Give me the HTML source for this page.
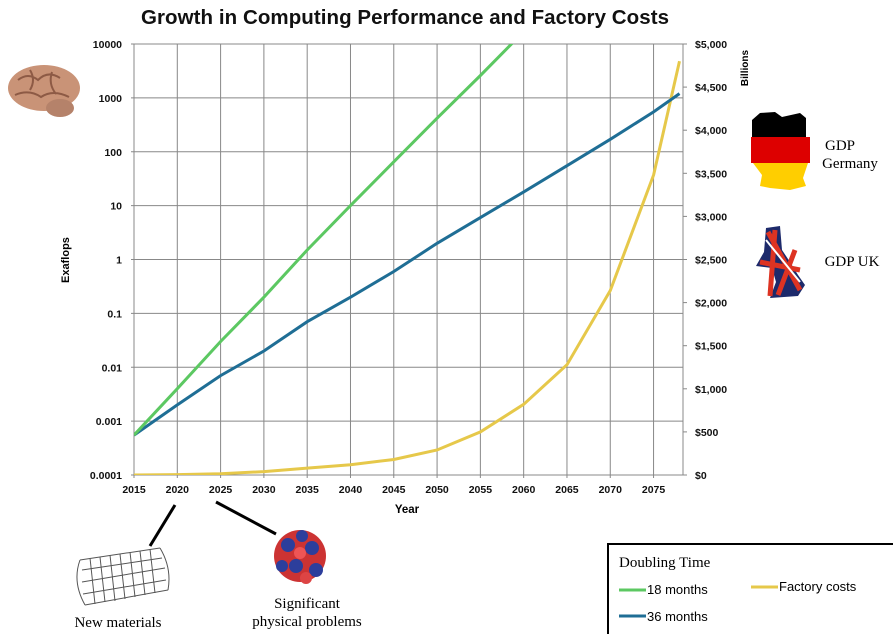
<!DOCTYPE html>
<html><head><meta charset="utf-8"><style>
body{margin:0;background:#fff;width:893px;height:634px;overflow:hidden;font-family:"Liberation Sans",sans-serif}
svg{display:block}
</style></head><body>
<svg id="c" width="893" height="634" xmlns="http://www.w3.org/2000/svg">
<text x="405" y="24" text-anchor="middle" font-size="20.5" font-weight="bold" fill="#111" textLength="528">Growth in Computing Performance and Factory Costs</text>
<g id="grid"></g>
<g id="axes" font-size="10.5" font-weight="bold" fill="#111"></g>
<g id="series"></g>
<text x="69" y="260" font-size="11" font-weight="bold" transform="rotate(-90 69 260)" text-anchor="middle">Exaflops</text>
<text x="407" y="513" font-size="11.5" font-weight="bold" text-anchor="middle">Year</text>
<text x="748" y="68" font-size="10" font-weight="bold" transform="rotate(-90 748 68)" text-anchor="middle">Billions</text>
<g>
<ellipse cx="44" cy="88" rx="36" ry="23" fill="#c99377"/>
<ellipse cx="60" cy="108" rx="14" ry="9" fill="#b5826a"/>
<path d="M18 80 q10 -8 20 0 q10 -10 22 -2 M15 95 q14 -6 26 2 q12 -8 28 0 M30 70 q6 10 0 20 M52 72 q-4 12 4 22" stroke="#8d5a45" stroke-width="2" fill="none"/>
</g>
<g>
<path d="M760 113 L775 112 L782 117 L800 113 L806 118 L806 137 L752 137 L752 120 Z" fill="#000"/>
<rect x="751" y="137" width="59" height="26" fill="#dd0000"/>
<path d="M753 163 L808 163 L803 178 L806 186 L790 190 L770 188 L760 186 L762 175 Z" fill="#ffce00"/>
</g>
<text x="840" y="150" font-family="Liberation Serif" font-size="15" text-anchor="middle">GDP</text>
<text x="850" y="168" font-family="Liberation Serif" font-size="15" text-anchor="middle">Germany</text>
<g>
<path d="M766 228 L780 226 L782 250 L790 262 L798 275 L805 285 L798 296 L770 298 L776 282 L772 268 L756 266 L764 252 Z" fill="#1d2a6b"/>
<path d="M768 232 L800 290 M775 230 L770 296 M760 262 L800 270 M778 295 L795 250" stroke="#d32" stroke-width="5" fill="none"/>
<path d="M766 240 L800 282" stroke="#fff" stroke-width="2"/>
</g>
<text x="852" y="266" font-family="Liberation Serif" font-size="15" text-anchor="middle">GDP  UK</text>
<line x1="175" y1="505" x2="150" y2="546" stroke="#000" stroke-width="3"/>
<line x1="216" y1="502" x2="276" y2="534" stroke="#000" stroke-width="3"/>
<g stroke="#555" fill="none" stroke-width="1">
<path d="M80 560 L160 548 M85 605 L168 590 M80 560 q-8 22 5 45 M160 548 q12 20 8 42"/>
<path d="M90 558 L95 604 M100 557 L105 602 M110 555 L115 601 M120 554 L125 599 M130 552 L135 597 M140 551 L145 595 M150 549 L155 593 M82 570 L162 558 M82 582 L165 568 M83 594 L166 580"/>
</g>
<text x="118" y="627" font-family="Liberation Serif" font-size="15" text-anchor="middle">New materials</text>
<g>
<circle cx="300" cy="556" r="26" fill="#c33"/>
<circle cx="288" cy="545" r="7" fill="#2c3e9c"/><circle cx="312" cy="548" r="7" fill="#2c3e9c"/>
<circle cx="296" cy="566" r="7" fill="#2c3e9c"/><circle cx="316" cy="570" r="7" fill="#2c3e9c"/>
<circle cx="282" cy="566" r="6" fill="#2c3e9c"/><circle cx="302" cy="536" r="6" fill="#2c3e9c"/>
<circle cx="306" cy="578" r="6" fill="#d44"/><circle cx="300" cy="553" r="6" fill="#e55"/>
</g>
<text x="307" y="608" font-family="Liberation Serif" font-size="15" text-anchor="middle">Significant</text>
<text x="307" y="626" font-family="Liberation Serif" font-size="15" text-anchor="middle">physical  problems</text>
<g>
<rect x="608" y="544" width="290" height="95" fill="#fff" stroke="#000" stroke-width="2"/>
<text x="619" y="567" font-family="Liberation Serif" font-size="15">Doubling Time</text>
<line x1="619" y1="590" x2="646" y2="590" stroke="#5cc862" stroke-width="3"/>
<text x="647" y="594" font-size="13">18 months</text>
<line x1="619" y1="616" x2="646" y2="616" stroke="#1f6e95" stroke-width="3"/>
<text x="647" y="621" font-size="13">36 months</text>
<line x1="751" y1="587" x2="778" y2="587" stroke="#e6c84a" stroke-width="3"/>
<text x="779" y="591" font-size="13">Factory costs</text>
</g>
</svg>
<script>
const years=[2015,2020,2025,2030,2035,2040,2045,2050,2055,2060,2065,2070,2075,2078];
const fast=[0.00055,0.004,0.03,0.2,1.5,10,65,420,2600,17000,null,null,null,null];
const slow=[0.00055,0.002,0.007,0.02,0.07,0.2,0.6,2,6,18,55,170,550,1200];
const costs=[0,5,15,40,80,120,180,290,500,820,1280,2140,3480,4800];
const xTicks=[2015,2020,2025,2030,2035,2040,2045,2050,2055,2060,2065,2070,2075];
const yTicks=[0.0001,0.001,0.01,0.1,1,10,100,1000,10000];
const yTickLabels=["0.0001","0.001","0.01","0.1","1","10","100","1000","10000"];
const rTicks=[0,500,1000,1500,2000,2500,3000,3500,4000,4500,5000];
const L=134,R=683,T=44,B=475;
const x=v=>L+(v-2015)*(R-L)/63.4;
const y=v=>B-(Math.log10(v)+4)*(B-T)/8;
const yr=v=>B-v*(B-T)/5000;
const NS="http://www.w3.org/2000/svg";
function mk(p,t,a){const e=document.createElementNS(NS,t);for(const k in a)e.setAttribute(k,a[k]);p.appendChild(e);return e;}
const g=document.getElementById('grid'),ax=document.getElementById('axes'),s=document.getElementById('series');
mk(g,'rect',{x:L,y:T,width:R-L,height:B-T,fill:'none',stroke:'#888'});
xTicks.forEach(v=>{
const l=mk(g,'line',{x1:x(v),x2:x(v),y1:T,y2:B+3,stroke:'#888'});


const t=mk(ax,'text',{x:x(v),y:B+18,'text-anchor':'middle'});t.textContent=v;


});
yTicks.forEach((v,i)=>{
const l=mk(g,'line',{x1:L-3,x2:R,y1:y(v),y2:y(v),stroke:'#888'});


const t=mk(ax,'text',{x:122,y:y(v)+4,'text-anchor':'end'});t.textContent=yTickLabels[i];


});
rTicks.forEach(v=>{
mk(g,'line',{x1:R,x2:R+4,y1:yr(v),y2:yr(v),stroke:'#888'});
const t=mk(ax,'text',{x:695,y:yr(v)+4});t.textContent='$'+v.toLocaleString('en-US');


});
mk(s,'clipPath',{id:'cp'}).appendChild(document.createElementNS(NS,'rect'));
const cr=s.querySelector('#cp rect');cr.setAttribute('x',L);cr.setAttribute('y',T);cr.setAttribute('width',R-L+2);cr.setAttribute('height',B-T);
function line(vals,fy,col,name){let d='';vals.forEach((v,i)=>{if(v==null)return;d+=(d?'L':'M')+x(years[i]).toFixed(1)+' '+fy(v).toFixed(1);});
const p=mk(s,'path',{d:d,fill:'none',stroke:col,'stroke-width':3,'clip-path':'url(#cp)'});

}
line(costs,v=>yr(v),'#e6c84a','factory-costs-line');
line(slow,y,'#1f6e95','36-months-line');
line(fast,y,'#5cc862','18-months-line');
</script>
</body></html>
